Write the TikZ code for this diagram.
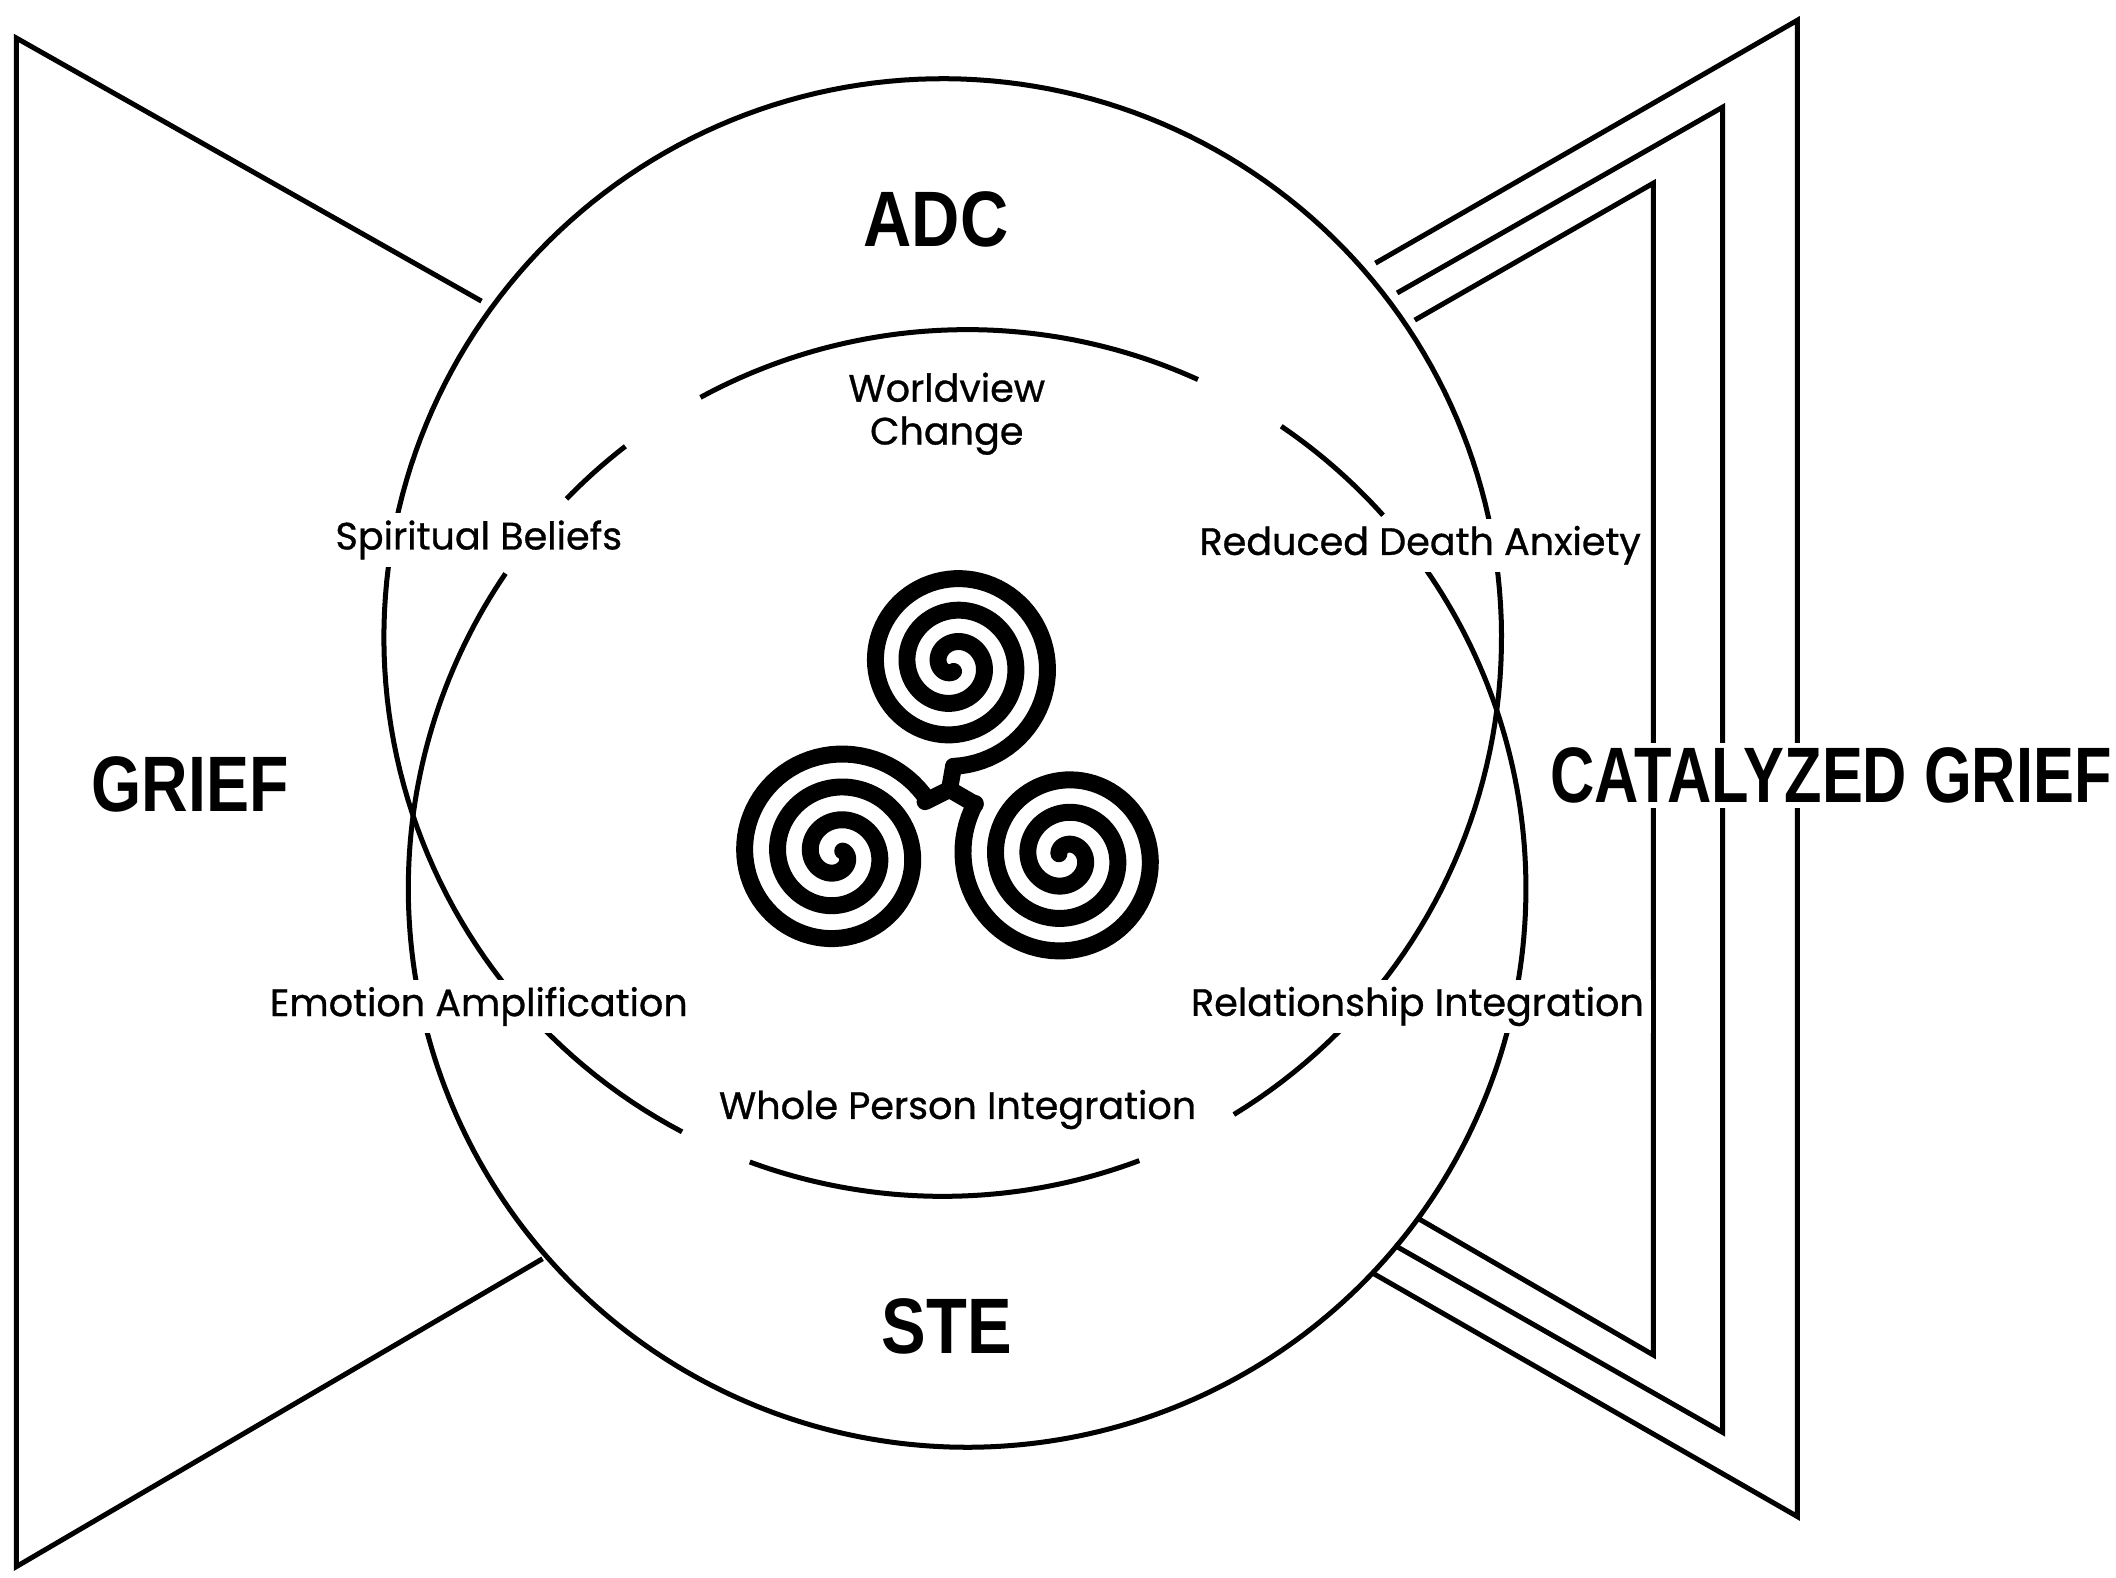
\documentclass[tikz,border=0pt]{standalone}
\usepackage{fontspec}
\setmainfont{Poppins}[FakeBold=0.8]
\newfontfamily\headfont{Liberation Sans}
\usepackage{graphicx}
\begin{document}
\begin{tikzpicture}[x=0.02cm,y=-0.02cm,
  ln/.style={line width=2.1pt,black},
  lbl/.style={fill=white,inner sep=3pt,font=\fontsize{16}{18}\selectfont},
  head/.style={inner sep=2pt,font=\headfont\bfseries\fontsize{33}{36}\selectfont},
  sp/.style={line width=0.25cm,line cap=round}]
\useasboundingbox (0,0) rectangle (1560,1163);
% circle arcs (A centre 695,470 ; B centre 713,655 ; r=412)
\def\R{412}
\draw[ln] plot[domain=-58.6:242.2,samples=200] ({695+\R*cos(\x)},{470-\R*sin(\x)});
\draw[ln] plot[domain=249.8:290.6,samples=60] ({695+\R*cos(\x)},{470-\R*sin(\x)});
\draw[ln] plot[domain=41.9:55.8,samples=30] ({713+\R*cos(\x)},{655-\R*sin(\x)});
\draw[ln] plot[domain=65.6:118.5,samples=60] ({713+\R*cos(\x)},{655-\R*sin(\x)});
\draw[ln] plot[domain=127.7:135.8,samples=20] ({713+\R*cos(\x)},{655-\R*sin(\x)});
\draw[ln] plot[domain=145.7:400,samples=250] ({713+\R*cos(\x)},{655-\R*sin(\x)});
% left bow
\coordinate (l1) at (355,222); \coordinate (l2) at (12,28);
\coordinate (l3) at (12,1155); \coordinate (l4) at (400,928);
\draw[ln,line join=miter] (l1) -- (l2) -- (l3) -- (l4);
% right nested
\coordinate (o1) at (1014,194); \coordinate (o2) at (1325,15); \coordinate (o3) at (1325,1118); \coordinate (o4) at (1011,938);
\coordinate (m1) at (1030,216); \coordinate (m2) at (1270,79); \coordinate (m3) at (1270,1056); \coordinate (m4) at (1028,918);
\coordinate (i1) at (1043,236); \coordinate (i2) at (1219,135); \coordinate (i3) at (1219,999); \coordinate (i4) at (1045,898);
\draw[ln,line join=miter] (o1)--(o2)--(o3)--(o4);
\draw[ln,line join=miter] (m1)--(m2)--(m3)--(m4);
\draw[ln,line join=miter] (i1)--(i2)--(i3)--(i4);
% triskelion
\coordinate (j) at (700,582);
\draw[sp] plot[domain=0:1080,samples=260] ({703+(5+0.0648*\x)*cos(\x+90)},{490+(5+0.0648*\x)*sin(\x+90)});
\draw[sp] plot[domain=0:1080,samples=260] ({617+(5+0.0676*\x)*cos(\x-31)},{630+(5+0.0676*\x)*sin(\x-31)});
\draw[sp] plot[domain=0:1080,samples=260] ({785+(5+0.0667*\x)*cos(\x+211)},{632+(5+0.0667*\x)*sin(\x+211)});
\draw[sp] (703,565) -- (j);
\draw[sp] (682,591) -- (j);
\draw[sp] (719,593) -- (j);
% texts
\node[head] (adc) at (690,162) {\scalebox{0.85}[1]{ADC}};
\node[head] (ste) at (698,978) {\scalebox{0.85}[1]{STE}};
\node[head] (grief) at (140,578) {\scalebox{0.82}[1]{GRIEF}};
\node[head,fill=white] (cg) at (1350,572) {\scalebox{0.78}[1]{CATALYZED GRIEF}};
\node[lbl,align=center,fill=none] (wv) at (698,305) {Worldview\\Change};
\node[lbl] (sb) at (353,398) {Spiritual Beliefs};
\node[lbl] (rda) at (1047,402) {Reduced Death Anxiety};
\node[lbl] (ea) at (353,742) {Emotion Amplification};
\node[lbl] (ri) at (1045,742) {Relationship Integration};
\node[lbl] (wpi) at (706,818) {Whole Person Integration};
\end{tikzpicture}
\end{document}
